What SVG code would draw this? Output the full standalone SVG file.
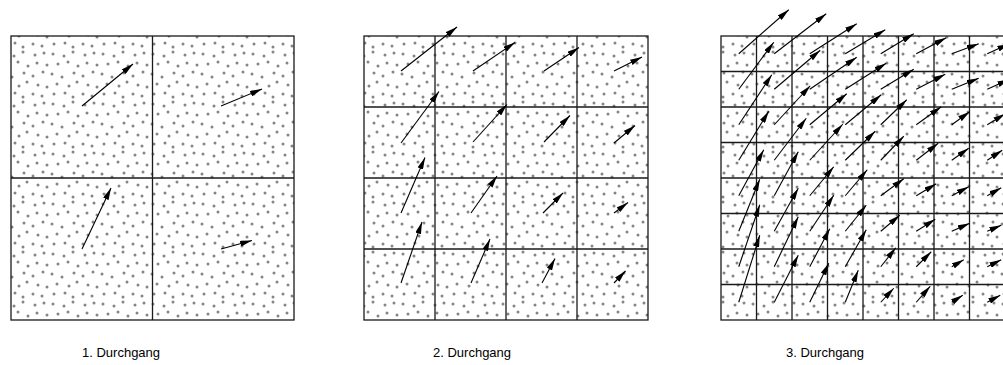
<svg xmlns="http://www.w3.org/2000/svg" width="1003" height="365" viewBox="0 0 1003 365">
<style>
.panel{fill:url(#dots);stroke:#1a1a1a;stroke-width:1.3}
.grid{stroke:#1a1a1a;stroke-width:1.3;fill:none}
.arr line{stroke:#000;stroke-width:1.1;marker-end:url(#ah)}
.lbl{font-family:"Liberation Sans",Arial,sans-serif;font-size:13px;fill:#000}
</style>
<defs>
<pattern id="dots" patternUnits="userSpaceOnUse" width="50" height="50">
<rect width="50" height="50" fill="#fff"/>
<g fill="#858585">
<circle cx="3" cy="4" r="1.5"/><circle cx="14" cy="6" r="1.5"/><circle cx="23" cy="2" r="1.5"/><circle cx="35" cy="5" r="1.5"/><circle cx="44" cy="3" r="1.5"/>
<circle cx="8" cy="14" r="1.5"/><circle cx="18" cy="12" r="1.5"/><circle cx="28" cy="16" r="1.5"/><circle cx="37" cy="13" r="1.5"/><circle cx="47" cy="15" r="1.5"/>
<circle cx="2" cy="24" r="1.5"/><circle cx="12" cy="27" r="1.5"/><circle cx="24" cy="23" r="1.5"/><circle cx="33" cy="26" r="1.5"/><circle cx="43" cy="22" r="1.5"/>
<circle cx="7" cy="34" r="1.5"/><circle cx="19" cy="36" r="1.5"/><circle cx="27" cy="32" r="1.5"/><circle cx="38" cy="35" r="1.5"/><circle cx="47" cy="37" r="1.5"/>
<circle cx="4" cy="44" r="1.5"/><circle cx="15" cy="43" r="1.5"/><circle cx="23" cy="47" r="1.5"/><circle cx="33" cy="44" r="1.5"/><circle cx="42" cy="46" r="1.5"/>
</g>
</pattern>
<marker id="ah" viewBox="0 0 12 6" refX="12" refY="3" markerWidth="12" markerHeight="6" markerUnits="userSpaceOnUse" orient="auto">
<path d="M0,0 L12,3 L0,6 z" fill="#000"/>
</marker>
</defs>

<g id="panel1">
<rect class="panel" x="11" y="36" width="283" height="284"/>
<path class="grid" d="M152.5,36 V320 M11,178 H294"/>
</g>

<g id="panel2">
<rect class="panel" x="364" y="36" width="284" height="284"/>
<path class="grid" d="M435,36 V320 M506,36 V320 M577,36 V320 M364,107 H648 M364,178 H648 M364,249 H648"/>
</g>

<g id="panel3">
<rect class="panel" x="721" y="36" width="284" height="284"/>
<path class="grid" d="M756.5,36 V320 M792,36 V320 M827.5,36 V320 M863,36 V320 M898.5,36 V320 M934,36 V320 M969.5,36 V320 M721,71.5 H1005 M721,107 H1005 M721,142.5 H1005 M721,178 H1005 M721,213.5 H1005 M721,249 H1005 M721,284.5 H1005"/>
</g>

<g id="connectors" class="arr">
<!-- panel 1 -->
<line x1="82" y1="106" x2="133" y2="64"/>
<line x1="221" y1="106" x2="262" y2="89"/>
<line x1="82" y1="249" x2="111" y2="188"/>
<line x1="221" y1="249" x2="252" y2="240.5"/>
<!-- panel 2 -->
<line x1="401" y1="71" x2="457" y2="27"/>
<line x1="473" y1="71" x2="515" y2="42.5"/>
<line x1="544" y1="71" x2="579" y2="47.5"/>
<line x1="614" y1="71" x2="642" y2="57"/>
<line x1="401" y1="143" x2="439" y2="91.5"/>
<line x1="473" y1="142" x2="507" y2="104.5"/>
<line x1="544" y1="142" x2="570" y2="115.5"/>
<line x1="614" y1="143" x2="635" y2="125.5"/>
<line x1="401" y1="213" x2="425" y2="157.5"/>
<line x1="471" y1="213" x2="497" y2="176"/>
<line x1="543" y1="213" x2="563" y2="193"/>
<line x1="614" y1="213" x2="628" y2="202.5"/>
<line x1="401" y1="283" x2="422" y2="222"/>
<line x1="471" y1="283" x2="490" y2="239"/>
<line x1="542" y1="283" x2="555" y2="258.5"/>
<line x1="614" y1="283" x2="625.5" y2="271"/>
<!-- panel 3 row 0 -->
<line x1="738.75" y1="53.75" x2="788.75" y2="9.75"/>
<line x1="774.25" y1="53.75" x2="826.25" y2="13.75"/>
<line x1="809.75" y1="53.75" x2="856.75" y2="23.75"/>
<line x1="845.25" y1="53.75" x2="885.25" y2="29.75"/>
<line x1="880.75" y1="53.75" x2="913.75" y2="33.75"/>
<line x1="916.25" y1="53.75" x2="946.25" y2="37.75"/>
<line x1="951.75" y1="53.75" x2="978.75" y2="43.75"/>
<line x1="987.25" y1="53.75" x2="1009.25" y2="43.75"/>
<!-- row 1 -->
<line x1="738.75" y1="89.25" x2="773.75" y2="42.25"/>
<line x1="774.25" y1="89.25" x2="820.25" y2="50.25"/>
<line x1="809.75" y1="89.25" x2="856.75" y2="57.25"/>
<line x1="845.25" y1="89.25" x2="886.25" y2="63.25"/>
<line x1="880.75" y1="89.25" x2="913.75" y2="69.25"/>
<line x1="916.25" y1="89.25" x2="945.25" y2="74.25"/>
<line x1="951.75" y1="89.25" x2="978.75" y2="78.25"/>
<line x1="987.25" y1="89.25" x2="1009.25" y2="79.25"/>
<!-- row 2 -->
<line x1="738.75" y1="124.75" x2="771.75" y2="74.75"/>
<line x1="774.25" y1="124.75" x2="810.25" y2="85.75"/>
<line x1="809.75" y1="124.75" x2="846.75" y2="93.75"/>
<line x1="845.25" y1="124.75" x2="881.25" y2="94.75"/>
<line x1="880.75" y1="124.75" x2="906.75" y2="99.75"/>
<line x1="916.25" y1="124.75" x2="941.25" y2="106.75"/>
<line x1="951.75" y1="124.75" x2="969.75" y2="111.75"/>
<line x1="987.25" y1="124.75" x2="1005.25" y2="113.75"/>
<!-- row 3 -->
<line x1="738.75" y1="160.25" x2="768.75" y2="111.25"/>
<line x1="774.25" y1="160.25" x2="806.25" y2="118.25"/>
<line x1="809.75" y1="160.25" x2="842.75" y2="124.25"/>
<line x1="845.25" y1="160.25" x2="875.25" y2="131.25"/>
<line x1="880.75" y1="160.25" x2="903.75" y2="136.25"/>
<line x1="916.25" y1="160.25" x2="938.25" y2="143.25"/>
<line x1="951.75" y1="160.25" x2="968.75" y2="148.25"/>
<line x1="987.25" y1="160.25" x2="1002.25" y2="150.25"/>
<!-- row 4 -->
<line x1="738.75" y1="195.75" x2="763.75" y2="149.75"/>
<line x1="774.25" y1="195.75" x2="798.25" y2="151.75"/>
<line x1="809.75" y1="195.75" x2="833.75" y2="166.75"/>
<line x1="845.25" y1="195.75" x2="867.25" y2="169.75"/>
<line x1="880.75" y1="195.75" x2="903.75" y2="178.75"/>
<line x1="916.25" y1="195.75" x2="936.25" y2="183.75"/>
<line x1="951.75" y1="195.75" x2="968.75" y2="186.75"/>
<line x1="987.25" y1="195.75" x2="1001.25" y2="187.75"/>
<!-- row 5 -->
<line x1="738.75" y1="231.25" x2="759.75" y2="179.25"/>
<line x1="774.25" y1="231.25" x2="798.25" y2="188.25"/>
<line x1="809.75" y1="231.25" x2="833.75" y2="195.25"/>
<line x1="845.25" y1="231.25" x2="866.25" y2="205.25"/>
<line x1="880.75" y1="231.25" x2="899.75" y2="215.25"/>
<line x1="916.25" y1="231.25" x2="935.25" y2="219.25"/>
<line x1="951.75" y1="231.25" x2="969.75" y2="223.25"/>
<line x1="987.25" y1="231.25" x2="1001.25" y2="225.25"/>
<!-- row 6 -->
<line x1="738.75" y1="266.75" x2="759.75" y2="204.75"/>
<line x1="774.25" y1="266.75" x2="798.25" y2="216.75"/>
<line x1="809.75" y1="266.75" x2="829.75" y2="228.75"/>
<line x1="845.25" y1="266.75" x2="866.25" y2="229.75"/>
<line x1="880.75" y1="266.75" x2="895.75" y2="247.75"/>
<line x1="916.25" y1="266.75" x2="931.25" y2="251.75"/>
<line x1="951.75" y1="266.75" x2="963.75" y2="259.75"/>
<line x1="987.25" y1="266.75" x2="1001.25" y2="259.75"/>
<!-- row 7 -->
<line x1="738.75" y1="302.25" x2="759.75" y2="235.25"/>
<line x1="774.25" y1="302.25" x2="798.25" y2="255.25"/>
<line x1="809.75" y1="302.25" x2="828.75" y2="263.25"/>
<line x1="845.25" y1="302.25" x2="858.25" y2="270.25"/>
<line x1="880.75" y1="302.25" x2="893.75" y2="288.25"/>
<line x1="916.25" y1="302.25" x2="930.25" y2="286.25"/>
<line x1="951.75" y1="302.25" x2="962.75" y2="295.25"/>
<line x1="987.25" y1="302.25" x2="1000.25" y2="295.25"/>
</g>

<g id="labels">
<text class="lbl" x="82" y="357">1. Durchgang</text>
<text class="lbl" x="433" y="357">2. Durchgang</text>
<text class="lbl" x="786" y="357">3. Durchgang</text>
</g>
</svg>
